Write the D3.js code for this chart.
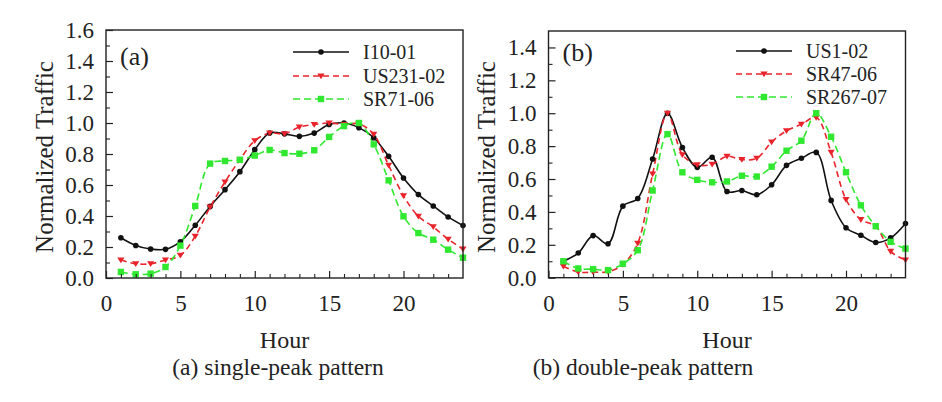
<!DOCTYPE html>
<html>
<head>
<meta charset="utf-8">
<script src="https://cdn.jsdelivr.net/npm/d3@7"></script>
<style>
  html, body { margin: 0; padding: 0; background: #fff; }
  svg text { font-family: "Liberation Serif", "Times New Roman", serif; fill: #222; }
</style>
</head>
<body>
<svg id="chart" width="942" height="402"></svg>
<script>
// ---------- data ----------
const hours = d3.range(1, 25);

// Panel (a) single-peak pattern
const seriesA_names = ["I10-01", "US231-02", "SR71-06"];
const I10_01 = [0.26, 0.21, 0.187, 0.185, 0.234, 0.34, 0.462, 0.57, 0.686, 0.828, 0.935, 0.93,
                0.914, 0.935, 0.99, 1.0, 0.97, 0.905, 0.785, 0.645, 0.538, 0.465, 0.394, 0.338];
const US231_02 = [0.116, 0.092, 0.092, 0.116, 0.146, 0.27, 0.458, 0.62, 0.763, 0.886, 0.935, 0.93,
                  0.974, 0.99, 1.0, 0.99, 0.995, 0.927, 0.727, 0.53, 0.398, 0.33, 0.25, 0.187];
const SR71_06 = [0.039, 0.024, 0.028, 0.071, 0.209, 0.465, 0.738, 0.755, 0.763, 0.79, 0.826, 0.806,
                 0.802, 0.824, 0.91, 0.98, 1.0, 0.862, 0.63, 0.398, 0.29, 0.247, 0.183, 0.131];

// Panel (b) double-peak pattern
const seriesB_names = ["US1-02", "SR47-06", "SR267-07"];
const US1_02 = [0.10, 0.15, 0.256, 0.206, 0.435, 0.482, 0.722, 1.0, 0.792, 0.671, 0.732, 0.524,
                0.53, 0.504, 0.565, 0.683, 0.726, 0.762, 0.47, 0.304, 0.258, 0.214, 0.242, 0.33];
const SR47_06 = [0.07, 0.034, 0.034, 0.036, 0.08, 0.21, 0.63, 1.0, 0.748, 0.686, 0.69, 0.738,
                 0.718, 0.726, 0.825, 0.893, 0.933, 0.974, 0.762, 0.476, 0.353, 0.313, 0.16, 0.107];
const SR267_07 = [0.10, 0.056, 0.052, 0.046, 0.085, 0.167, 0.53, 0.873, 0.641, 0.595, 0.58, 0.585,
                  0.62, 0.615, 0.675, 0.772, 0.833, 1.0, 0.857, 0.641, 0.44, 0.313, 0.218, 0.177];

const xTicks = [0, 5, 10, 15, 20];
const yTicksA = [0.0, 0.2, 0.4, 0.6, 0.8, 1.0, 1.2, 1.4, 1.6];
const yTicksB = [0.0, 0.2, 0.4, 0.6, 0.8, 1.0, 1.2, 1.4];

// ---------- styles ----------
const FONT = "Liberation Serif";
const styles = [
  { color: "#111111", dash: null, marker: "circle" },
  { color: "#e8232b", dash: "6,4", marker: "triangle" },
  { color: "#2fe82f", dash: "7,4", marker: "square" }
];

const svg = d3.select("#chart");

function panel(cfg) {
  const x = d3.scaleLinear().domain([0, 24]).range([cfg.x0, cfg.x1]);
  const y = d3.scaleLinear().domain([0, cfg.yMax]).range([cfg.y0, cfg.y1]);
  const g = svg.append("g");

  // data lines
  const line = d3.line().x((d, i) => x(hours[i])).y(d => y(d)).curve(d3.curveCatmullRom.alpha(0.5));
  cfg.series.forEach((s, k) => {
    const st = styles[k];
    g.append("path").datum(s)
      .attr("d", line).attr("fill", "none")
      .attr("stroke", st.color).attr("stroke-width", 1.6)
      .attr("stroke-dasharray", st.dash);
  });
  cfg.series.forEach((s, k) => {
    const st = styles[k];
    s.forEach((v, i) => drawMarker(g, st, x(hours[i]), y(v)));
  });

  // frame
  g.append("rect").attr("x", cfg.x0).attr("y", cfg.y1)
    .attr("width", cfg.x1 - cfg.x0).attr("height", cfg.y0 - cfg.y1)
    .attr("fill", "none").attr("stroke", "#222").attr("stroke-width", 1.4);

  // x axis (inward ticks)
  const xAxis = d3.axisBottom(x).tickValues(xTicks).tickFormat(d3.format("d"))
    .tickSizeInner(-7).tickSizeOuter(0).tickPadding(17);
  const gx = g.append("g").attr("transform", `translate(0,${cfg.y0})`).call(xAxis);
  gx.attr("font-family", FONT);
  gx.select(".domain").remove();
  gx.selectAll("line").attr("stroke", "#222").attr("stroke-width", 1.2);
  gx.selectAll("text").attr("font-size", 23).attr("font-family", FONT).attr("fill", "#222");
  const xMinor = d3.axisBottom(x).tickValues(d3.range(1, 24).filter(v => v % 5 !== 0))
    .tickSize(-4).tickFormat("");
  const gxm = g.append("g").attr("transform", `translate(0,${cfg.y0})`).call(xMinor);
  gxm.select(".domain").remove();
  gxm.selectAll("line").attr("stroke", "#222").attr("stroke-width", 1.1);

  // y axis
  const yAxis = d3.axisLeft(y).tickValues(cfg.yTicks).tickFormat(d3.format(".1f"))
    .tickSizeInner(-7).tickSizeOuter(0).tickPadding(12);
  const gy = g.append("g").attr("transform", `translate(${cfg.x0},0)`).call(yAxis);
  gy.attr("font-family", FONT);
  gy.select(".domain").remove();
  gy.selectAll("line").attr("stroke", "#222").attr("stroke-width", 1.2);
  gy.selectAll("text").attr("font-size", 23).attr("font-family", FONT).attr("fill", "#222");
  const yMinorVals = cfg.yTicks.slice(0, -1).map(v => v + 0.1).filter(v => v < cfg.yMax);
  const yMinor = d3.axisLeft(y).tickValues(yMinorVals).tickSize(-4).tickFormat("");
  const gym = g.append("g").attr("transform", `translate(${cfg.x0},0)`).call(yMinor);
  gym.select(".domain").remove();
  gym.selectAll("line").attr("stroke", "#222").attr("stroke-width", 1.1);

  // titles
  const cx = (cfg.x0 + cfg.x1) / 2;
  g.append("text").attr("x", cx).attr("y", 348).attr("text-anchor", "middle")
    .attr("font-size", 24).text("Hour");
  g.append("text").attr("x", cfg.ylabX).attr("y", 157)
    .attr("transform", `rotate(-90,${cfg.ylabX},157)`)
    .attr("text-anchor", "middle").attr("font-size", 25).text("Normalized Traffic");
  g.append("text").attr("x", cfg.capX).attr("y", 375).attr("text-anchor", "middle")
    .attr("font-size", 23.5).text(cfg.caption);
  g.append("text").attr("x", cfg.x0 + 14).attr("y", cfg.tagY).attr("font-size", 26).text(cfg.tag);

  // legend
  cfg.names.forEach((n, k) => {
    const st = styles[k];
    const ly = cfg.legY[k];
    g.append("line").attr("x1", cfg.legX).attr("x2", cfg.legX + 56)
      .attr("y1", ly).attr("y2", ly)
      .attr("stroke", st.color).attr("stroke-width", 1.6).attr("stroke-dasharray", st.dash);
    drawMarker(g, st, cfg.legX + 28, ly);
    g.append("text").attr("x", cfg.legX + 70).attr("y", ly + 7).attr("font-size", 20).text(n);
  });
}

function drawMarker(g, st, cx, cy) {
  if (st.marker === "circle") {
    g.append("circle").attr("cx", cx).attr("cy", cy).attr("r", 2.8).attr("fill", st.color);
  } else if (st.marker === "square") {
    g.append("rect").attr("x", cx - 3.2).attr("y", cy - 3.2).attr("width", 6.4).attr("height", 6.4)
      .attr("fill", st.color);
  } else {
    const s = 3.6;
    g.append("path").attr("d", `M${cx - s},${cy - s * 0.7}L${cx + s},${cy - s * 0.7}L${cx},${cy + s * 0.9}Z`)
      .attr("fill", st.color);
  }
}

panel({
  x0: 106, x1: 463, y0: 278, y1: 30, yMax: 1.6, yTicks: yTicksA,
  series: [I10_01, US231_02, SR71_06], names: seriesA_names,
  ylabX: 53, capX: 278, caption: "(a) single-peak pattern", tag: "(a)", tagY: 65,
  legX: 293, legY: [52, 76, 99]
});
panel({
  x0: 548.5, x1: 905.5, y0: 277.7, y1: 31, yMax: 1.5, yTicks: yTicksB,
  series: [US1_02, SR47_06, SR267_07], names: seriesB_names,
  ylabX: 495, capX: 643, caption: "(b) double-peak pattern", tag: "(b)", tagY: 61,
  legX: 736, legY: [51, 74, 97]
});
</script>
</body>
</html>
